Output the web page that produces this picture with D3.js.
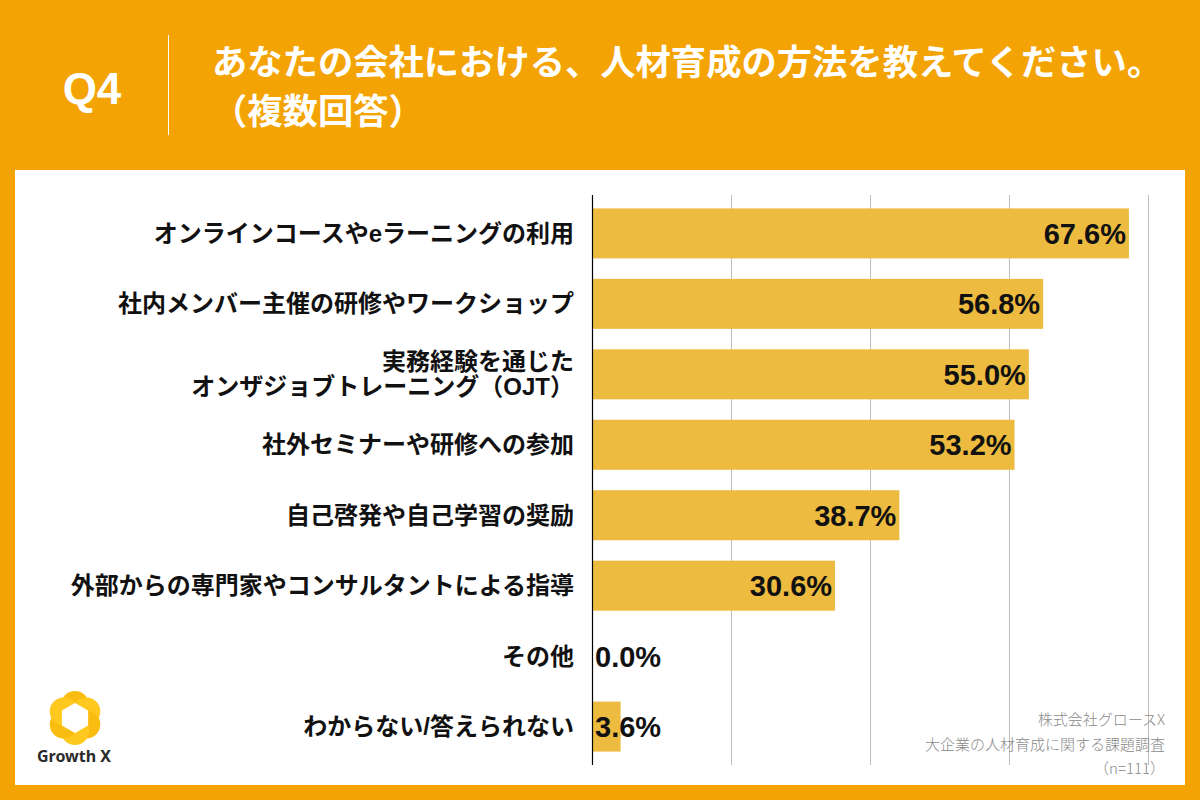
<!DOCTYPE html>
<html>
<head>
<meta charset="utf-8">
<script src="https://cdn.jsdelivr.net/npm/d3@7"></script>
<style>
  html, body { margin: 0; padding: 0; background: #F4A304; }
  svg { display: block; font-family: "Liberation Sans", "Noto Sans CJK JP", sans-serif; }
</style>
</head>
<body>
<svg id="chart" width="1200" height="800"></svg>
<script>
// data
var categories = [
  "オンラインコースやeラーニングの利用",
  "社内メンバー主催の研修やワークショップ",
  "実務経験を通じた\nオンザジョブトレーニング（OJT）",
  "社外セミナーや研修への参加",
  "自己啓発や自己学習の奨励",
  "外部からの専門家やコンサルタントによる指導",
  "その他",
  "わからない/答えられない"
];
var values = [67.6, 56.8, 55.0, 53.2, 38.7, 30.6, 0.0, 3.6];
var gridTicks = [0, 17.5, 35, 52.5, 70];
var titleLines = ["あなたの会社における、人材育成の方法を教えてください。", "（複数回答）"];
var noteLines = ["株式会社グロースX", "大企業の人材育成に関する課題調査", "（n=111）"];

var svg = d3.select("#chart");
var orange = "#F4A304";
var barColor = "#EDBB40";

// background + panel
svg.append("rect").attr("width", 1200).attr("height", 800).attr("fill", orange);
svg.append("rect")
  .attr("x", 15).attr("y", 170)
  .attr("width", 1170).attr("height", 615)
  .attr("fill", "#fff");

// header
svg.append("text")
  .attr("x", 92).attr("y", 104)
  .attr("text-anchor", "middle")
  .attr("font-size", "44px")
  .attr("font-weight", "bold")
  .attr("fill", "#fff")
  .text("Q4");

svg.append("line")
  .attr("x1", 168.5).attr("x2", 168.5)
  .attr("y1", 35).attr("y2", 135)
  .attr("stroke", "#fff").attr("stroke-width", 1);

svg.selectAll(".title")
  .data(titleLines)
  .enter().append("text")
  .attr("class", "title")
  .attr("x", 212)
  .attr("y", (d, i) => 75 + i * 49)
  .attr("font-family", "'Noto Sans CJK JP', sans-serif")
  .attr("font-size", "35.3px")
  .attr("font-weight", "bold")
  .attr("fill", "#fff")
  .text(d => d);

// scales
var x = d3.scaleLinear().domain([0, 70]).range([592, 1148]);
var y = d3.scaleBand()
  .domain(categories)
  .range([195, 765])
  .paddingInner(0.29)
  .paddingOuter(0.19);

// grid lines
var gridAxis = d3.axisBottom(x)
  .tickValues(gridTicks.slice(1))
  .tickSize(-(765 - 195))
  .tickFormat("");
var grid = svg.append("g")
  .attr("class", "grid")
  .attr("transform", "translate(0,765)")
  .call(gridAxis);
grid.select(".domain").remove();
grid.selectAll(".tick line").attr("stroke", "#bdbdbd").attr("stroke-width", 1);

// bars
svg.selectAll(".bar")
  .data(values)
  .enter().append("rect")
  .attr("class", "bar")
  .attr("x", x(0))
  .attr("y", (d, i) => y(categories[i]))
  .attr("width", d => x(d) - x(0))
  .attr("height", y.bandwidth())
  .attr("fill", barColor);

// y axis line
svg.append("line")
  .attr("x1", x(0) + 0.5).attr("x2", x(0) + 0.5)
  .attr("y1", 195).attr("y2", 765)
  .attr("stroke", "#000").attr("stroke-width", 1.2);

// category labels
var labels = svg.selectAll(".cat")
  .data(categories)
  .enter().append("text")
  .attr("class", "cat")
  .attr("text-anchor", "end")
  .attr("font-size", "24px")
  .attr("font-weight", "bold")
  .attr("fill", "#111");

labels.each(function(d) {
  var lines = d.split("\n");
  var cy = y(d) + y.bandwidth() / 2;
  var lh = 25;
  var t = d3.select(this);
  lines.forEach((l, j) => {
    t.append("tspan")
      .attr("x", 574)
      .attr("y", cy + (j - (lines.length - 1) / 2) * lh)
      .attr("dy", "0.36em")
      .text(l);
  });
});

// value labels
svg.selectAll(".val")
  .data(values)
  .enter().append("text")
  .attr("class", "val")
  .attr("x", d => d > 10 ? x(d) - 3 : x(0) + 3)
  .attr("y", (d, i) => y(categories[i]) + y.bandwidth() / 2)
  .attr("dy", "0.36em")
  .attr("text-anchor", d => d > 10 ? "end" : "start")
  .attr("font-size", "29px")
  .attr("font-weight", "bold")
  .attr("fill", "#111")
  .text(d => d.toFixed(1) + "%");

// source note
svg.selectAll(".note")
  .data(noteLines)
  .enter().append("text")
  .attr("class", "note")
  .attr("x", 1165)
  .attr("y", (d, i) => 725 + i * 24.5)
  .attr("text-anchor", "end")
  .attr("font-family", "'Noto Sans CJK JP', sans-serif")
  .attr("font-size", "15px")
  .attr("font-weight", 300)
  .attr("fill", "#8a8a8a")
  .text(d => d);

// logo
var logo = svg.append("g").attr("transform", "translate(75,718)");
var petals = d3.range(6);
logo.selectAll(".petal")
  .data(petals)
  .enter().append("circle")
  .attr("class", "petal")
  .attr("cx", d => 13 * Math.cos(Math.PI / 3 * d - Math.PI / 2))
  .attr("cy", d => 13 * Math.sin(Math.PI / 3 * d - Math.PI / 2))
  .attr("r", 14)
  .attr("fill", (d, i) => i % 2 ? "#FFC81E" : "#F9BC10");
var hex = d3.range(6).map(i => {
  var a = Math.PI / 3 * i - Math.PI / 2;
  return [14 * Math.cos(a), 14 * Math.sin(a)];
});
logo.append("path")
  .attr("d", d3.line().curve(d3.curveLinearClosed)(hex))
  .attr("fill", "#fff")
  .attr("stroke", "#fff")
  .attr("stroke-width", 2)
  .attr("stroke-linejoin", "round");
svg.append("text")
  .attr("x", 74).attr("y", 762)
  .attr("text-anchor", "middle")
  .attr("font-family", "'Noto Sans', sans-serif")
  .attr("font-size", "16px")
  .attr("font-weight", "bold")
  .attr("fill", "#2b2b2b")
  .text("Growth X");
</script>
</body>
</html>
